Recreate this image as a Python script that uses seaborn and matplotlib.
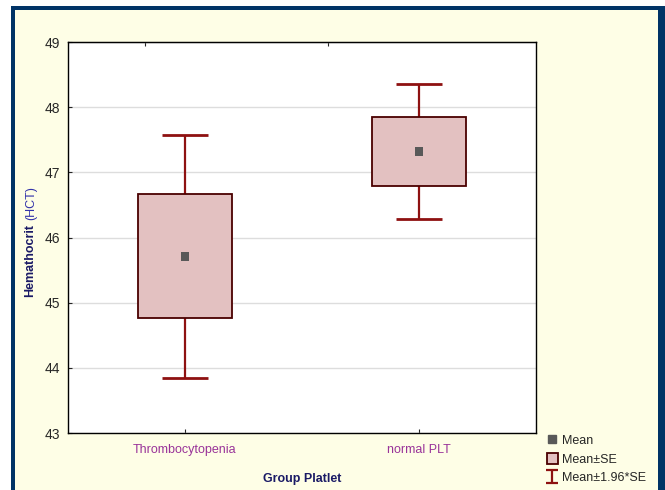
import numpy as np
import seaborn as sns
import matplotlib.pyplot as plt
from matplotlib.patches import Rectangle, Patch
from matplotlib.lines import Line2D

# data
groups = ['Thrombocytopenia', 'normal PLT']
means = [45.71, 47.32]
se = [0.95, 0.53]
y_ticks = [43, 44, 45, 46, 47, 48, 49]

sns.set_style('white')
plt.rcParams['font.family'] = ['Liberation Sans', 'DejaVu Sans']

fig = plt.figure(figsize=(6.65, 4.9), dpi=100)
W, H = 665, 490

# navy frame + pale yellow panel
fig.patches.append(Rectangle((11 / W, -0.1), 1.2, 1 - 6 / H + 0.1, transform=fig.transFigure,
                             facecolor='#003366', edgecolor='none', zorder=-2))
fig.patches.append(Rectangle((15 / W, -0.1), (658 - 15) / W, 1 - 10 / H + 0.1, transform=fig.transFigure,
                             facecolor='#FEFEE6', edgecolor='none', zorder=-1))

ax = fig.add_axes([68 / W, 1 - 433 / H, (536 - 68) / W, (433 - 42) / H])
ax.set_facecolor('white')

x = np.arange(len(groups))
means_a = np.array(means)
se_a = np.array(se)
ci = 1.96 * se_a

# whiskers (mean +/- 1.96*SE)
ax.errorbar(x, means_a, yerr=ci, fmt='none', ecolor='#8E1111', elinewidth=1.6,
            capsize=16.5, capthick=2, zorder=2)
# boxes (mean +/- SE)
ax.bar(x, 2 * se_a, bottom=means_a - se_a, width=0.4, color='#E3C1C1',
       edgecolor='#4A0000', linewidth=1.3, zorder=3)
# means
sns.scatterplot(x=x, y=means_a, marker='s', s=36, color='#595959', edgecolor='none',
                ax=ax, zorder=4)

# small I-beam only for the legend
eb_leg = ax.errorbar([np.nan], [np.nan], yerr=[1], fmt='none', ecolor='#8E1111',
                     elinewidth=1.6, capsize=4, capthick=1.6)

ax.set_xlim(-0.5, 1.5)
ax.set_ylim(43, 49)
ax.set_yticks(y_ticks)
ax.set_xticks(x)
ax.set_xticklabels(groups, color='#993399', fontsize=9)
ax.tick_params(axis='y', labelsize=10, direction='in', length=3, pad=6, left=True)
ax.tick_params(axis='x', direction='in', length=3, pad=8, bottom=True)
ax.yaxis.grid(True, color='#DDDDDD', linewidth=1)
ax.set_axisbelow(True)
for sp in ax.spines.values():
    sp.set_color('black')
    sp.set_linewidth(1)

top = ax.secondary_xaxis('top')
top.set_xticks([-0.17, 0.613])
top.set_xticklabels(['', ''])
top.tick_params(direction='in', length=3)

ax.set_xlabel('Group Platlet', fontsize=9, fontweight='bold', color='#1A1A66', labelpad=12)
ax.set_ylabel('')
fig.text(30 / W, 1 - 297 / H, 'Hemathocrit', rotation=90, ha='center', va='bottom',
         fontsize=9, fontweight='bold', color='#1A1A66')
fig.text(31 / W, 1 - 220 / H, '(HCT)', rotation=90, ha='center', va='bottom',
         fontsize=9, color='#3333AA')

handles = [
    Line2D([], [], marker='s', linestyle='none', color='#595959', markersize=6),
    Patch(facecolor='#E3C1C1', edgecolor='#4A0000', linewidth=1.3),
    eb_leg,
]
labels = ['Mean', 'Mean\u00b1SE', 'Mean\u00b11.96*SE']
fig.legend(handles, labels, loc='lower left', bbox_to_anchor=(538 / W, -3 / H),
           frameon=False, fontsize=9, handlelength=0.9, handleheight=1.0,
           handletextpad=0.3, labelspacing=0.45, borderpad=0.2)

fig.savefig('out.png', dpi=100)
